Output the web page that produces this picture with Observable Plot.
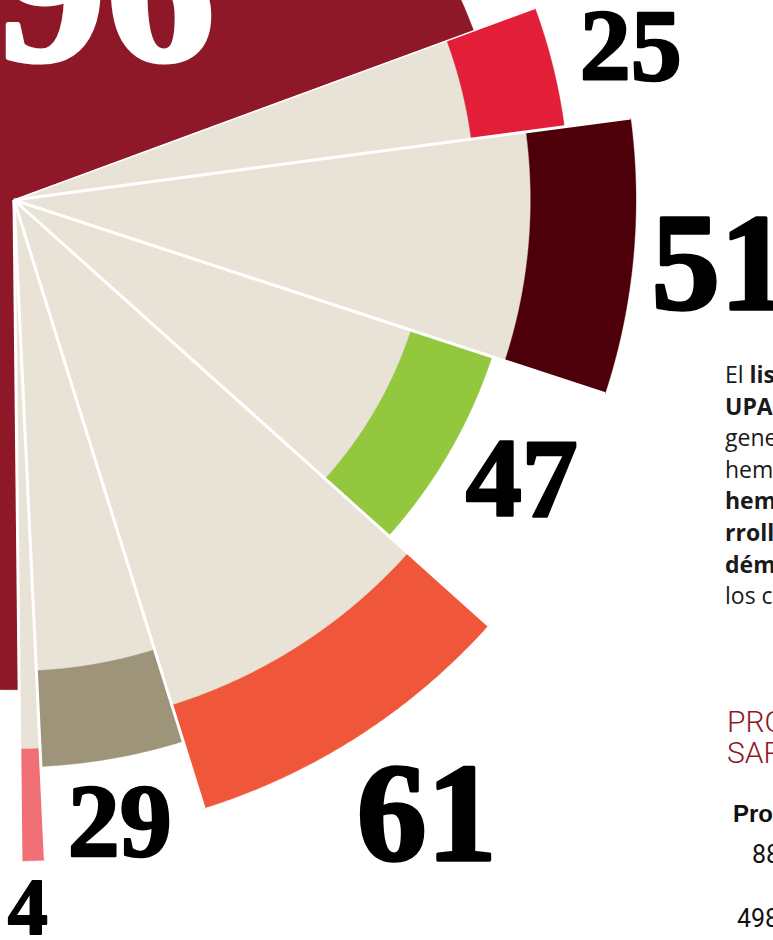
<!DOCTYPE html>
<html>
<head>
<meta charset="utf-8">
<script src="https://cdn.jsdelivr.net/npm/d3@7"></script>
<script src="https://cdn.jsdelivr.net/npm/@observablehq/plot@0.6"></script>
<style>
  html, body { margin: 0; padding: 0; background: #fff; width: 773px; height: 940px; overflow: hidden; }
  #chart { position: relative; width: 773px; height: 940px; overflow: hidden; }
  #chart svg { display: block; }
</style>
</head>
<body>
<div id="chart"></div>
<script>
// ---- data ----
const labels = ["96", "25", "51", "47", "61", "29", "4"];
const values = [96, 25, 51, 47, 61, 29, 4];
// relative outer reach of each wedge (largest = 100)
const reach = [74.1, 84.0, 94.1, 76.1, 96.4, 85.8, 100.0];
const colors = ["#8E1728", "#E31E38", "#4D000A", "#93C83E", "#F05639", "#9E9479", "#F07075"];
const beige = "#E9E3D7";

// ---- layout ----
const W = 773, H = 940;
const CX = 13.5, CY = 199.5;          // screen position of the fan's apex
const rScale = d3.scaleLinear().domain([0, 100]).range([0, 661]);
const degPerUnit = 0.5046, startDeg = 20.2, innerRatio = 0.83;

const rad = d => d * Math.PI / 180;
function arcPoly(id, a0, a1, r, fill) {
  const pts = [{id, fill, x: 0, y: 0}];
  const n = Math.max(2, Math.ceil(Math.abs(a1 - a0) / 0.25));
  for (let k = 0; k <= n; k++) {
    const a = a0 + (a1 - a0) * k / n;
    pts.push({id, fill, x: r * Math.cos(rad(a)), y: r * Math.sin(rad(a))});
  }
  pts.push({id, fill, x: 0, y: 0});
  return pts;
}

// angular extents (clockwise from startDeg)
const wedges = [];
let a = startDeg;
for (let i = 1; i < labels.length; i++) {
  const a0 = a, a1 = a - values[i] * degPerUnit;
  wedges.push({i, a0, a1, R: rScale(reach[i])});
  a = a1;
}
const endDeg = a;
// the first (highlighted) wedge takes the rest of the turn
wedges.unshift({i: 0, a0: endDeg - 0.2, a1: startDeg - 360, R: rScale(reach[0])});

const outer = wedges.flatMap(w => arcPoly("o" + w.i, w.a0, w.a1, w.R, colors[w.i]));
const inner = wedges.filter(w => w.i > 0)
  .flatMap(w => arcPoly("b" + w.i, w.a0, w.a1, w.R * innerRatio, beige));

// separators between neighbouring wedges
const byI = Object.fromEntries(wedges.map(w => [w.i, w]));
const seps = [];
seps.push({ang: startDeg, len: Math.max(byI[0].R, byI[1].R), w: 1.6});
for (let i = 1; i < labels.length - 1; i++) {
  seps.push({ang: byI[i].a1, len: Math.max(byI[i].R, byI[i + 1].R), w: 3});
}
seps.push({ang: endDeg - 0.1, len: Math.max(byI[6].R, byI[0].R), w: 3});
seps.forEach(s => { s.x2 = s.len * Math.cos(rad(s.ang)); s.y2 = s.len * Math.sin(rad(s.ang)); });

// value labels: placed outside each wedge's rim, near its middle angle
const labelLayout = {
  "96": {ang: 66.3, r: 229, size: 218, fill: "#ffffff", abs: true},
  "25": {dAng: 0, off: 80, size: 102, fill: "#000"},
  "51": {dAng: 0, off: 87, size: 137, fill: "#000"},
  "47": {dAng: 1.1, off: 77, size: 112, fill: "#000"},
  "61": {dAng: 1.1, off: 104, size: 140, fill: "#000"},
  "29": {dAng: -0.4, off: 64, size: 104, fill: "#000"},
  "4":  {dAng: -0.6, off: 48, size: 80, fill: "#000"}
};
const labelData = wedges.map(w => {
  const L = labelLayout[labels[w.i]];
  const ang = L.abs ? L.ang : (w.a0 + w.a1) / 2 + L.dAng;
  const r = L.abs ? L.r : w.R + L.off;
  return {text: labels[w.i], x: r * Math.cos(rad(ang)), y: r * Math.sin(rad(ang)), size: L.size, fill: L.fill};
});

const plot = Plot.plot({
  width: W, height: H,
  margin: 0,
  x: {domain: [-CX, W - CX], range: [0, W], axis: null},
  y: {domain: [CY - H, CY], range: [H, 0], axis: null},
  color: {type: "identity"},
  marks: [
    Plot.line(outer, {x: "x", y: "y", z: "id", fill: "fill", stroke: "fill", strokeWidth: 0.4, curve: "linear"}),
    Plot.line(inner, {x: "x", y: "y", z: "id", fill: "fill", stroke: "fill", strokeWidth: 0.4, curve: "linear"}),
    ...[1.6, 3].map(sw => Plot.link(seps.filter(s => s.w === sw), {
      x1: 0, y1: 0, x2: "x2", y2: "y2", stroke: "#ffffff", strokeWidth: sw, strokeLinecap: "butt"
    })),
    ...labelData.map(d => Plot.text([d], {
      x: "x", y: "y", text: "text",
      fontSize: d.size, fontWeight: "bold",
      fontFamily: "'Liberation Serif', 'DejaVu Serif', serif",
      fill: d.fill, stroke: d.fill, strokeWidth: d.size * 0.024,
      textAnchor: "middle", lineAnchor: "middle"
    }))
  ]
});
document.getElementById("chart").appendChild(plot);

// ---- side text (cut by the frame, as in the reference) ----
const svg = d3.select(plot);
const body = [
  [["El ", 400], ["listado de la", 700]],
  [["UPA", 700], [" denuncia que", 400]],
  [["generan los", 400]],
  [["hemos visto", 400]],
  [["hemorrágica", 700]],
  [["rrollo de la", 700]],
  [["démica en", 700]],
  [["los casos", 400]]
];
const g = svg.append("g").attr("text-anchor", "start")
  .attr("font-family", "'Open Sans', 'Noto Sans', sans-serif")
  .attr("font-size", 23).attr("fill", "#1a1a1a");
body.forEach((runs, k) => {
  const t = g.append("text").attr("x", 725).attr("y", 383 + k * 31.6);
  runs.forEach(([s, wgt]) => t.append("tspan").attr("font-weight", wgt).text(s));
});
const g2 = svg.append("g").attr("text-anchor", "start")
  .attr("font-family", "Roboto, 'Liberation Sans', sans-serif");
g2.append("text").attr("x", 727).attr("y", 732).attr("font-size", 30).attr("font-weight", 300)
  .attr("fill", "#8E1728").text("PROPAGACIÓN");
g2.append("text").attr("x", 727).attr("y", 763).attr("font-size", 30).attr("font-weight", 300)
  .attr("fill", "#8E1728").text("SARNA OVINA");
g2.append("text").attr("x", 733).attr("y", 822).attr("font-size", 24).attr("font-weight", 700)
  .attr("font-family", "'Liberation Sans', Arial, sans-serif").attr("fill", "#111").text("Provincia");
g2.append("text").attr("x", 752).attr("y", 863).attr("font-size", 25)
  .attr("fill", "#111").text("88");
g2.append("text").attr("x", 737).attr("y", 927).attr("font-size", 25)
  .attr("fill", "#111").text("498");
</script>
</body>
</html>
